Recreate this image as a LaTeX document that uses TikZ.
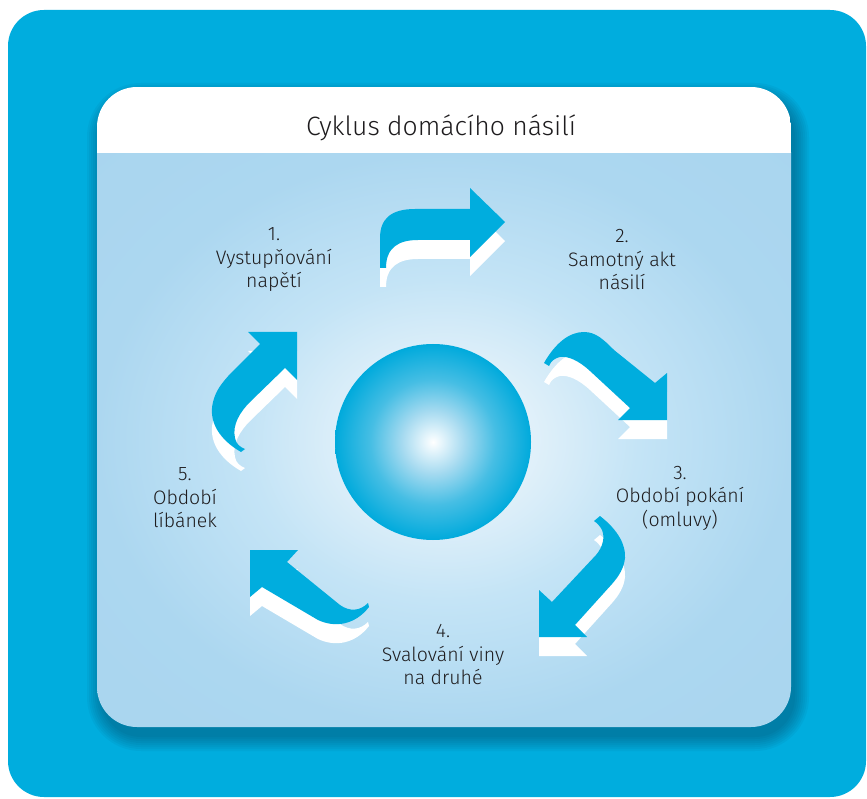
\documentclass[tikz,border=0pt]{standalone}
\usepackage{fontspec}
\setmainfont{Fira Sans Light}
\definecolor{cyklusmodra}{RGB}{0,173,222}
\definecolor{cyklustext}{RGB}{30,28,30}
\definecolor{cyklusstin}{RGB}{0,45,70}
\definecolor{kouleA}{RGB}{232,246,252}
\definecolor{kouleB}{RGB}{165,218,240}
\definecolor{kouleC}{RGB}{70,190,228}
\definecolor{kouleD}{RGB}{0,170,220}
\definecolor{pozadiA}{RGB}{246,251,254}
\definecolor{pozadiB}{RGB}{226,241,250}
\definecolor{pozadiC}{RGB}{196,228,246}
\definecolor{pozadiD}{RGB}{172,215,240}
\definecolor{pozadiE}{RGB}{165,211,237}
\pgfdeclareradialshading{koule}{\pgfpoint{0bp}{0bp}}{%
  color(0bp)=(white); color(2bp)=(kouleA); color(8bp)=(kouleB);
  color(16bp)=(kouleC); color(25bp)=(kouleD); color(50bp)=(kouleD)}
\pgfdeclareradialshading{pozadi}{\pgfpoint{0bp}{0bp}}{%
  color(0bp)=(pozadiA); color(6bp)=(pozadiB); color(14bp)=(pozadiC);
  color(25bp)=(pozadiD); color(50bp)=(pozadiE)}
\newcommand{\sipka}[1]{%
  \fill[white, shift={(0,19)}] #1;
  \fill[cyklusmodra] #1;}

\begin{document}
\begin{tikzpicture}[x={(1pt,0pt)}, y={(0pt,-1pt)},
    popis/.style={align=center, text=cyklustext, font=\fontsize{19.5}{23.5}\selectfont}]
  \useasboundingbox (0,0) rectangle (867,799);
  \fill[white] (0,0) rectangle (867,799);
  \fill[cyklusmodra, rounded corners=36] (8,10) rectangle (866,797);
  \foreach \r in {14,12,...,0}
    \fill[cyklusstin, opacity=0.05, rounded corners=40+\r] (101-\r,97-\r) rectangle (795+\r,737+\r);
  \begin{scope}
    \clip[rounded corners=40] (97,87) rectangle (791,727);
    \shade[shading=pozadi] (97,153) rectangle (791,727);
    \fill[white] (97,87) rectangle (791,153);
  \end{scope}
  \node[text=cyklustext, font=\fontsize{26.5}{32}\selectfont] (nadpis) at (441,128) {Cyklus domácího násilí};
  \node[circle, inner sep=0pt, minimum size=196pt, shading=koule] (koule) at (433,442) {};
  \sipka{(380,268) -- (380,238) .. controls (380,218) and (392,209) .. (415,209) -- (470,209) -- (470,188) -- (505,222) -- (470,257) -- (470,240) -- (418,240) .. controls (398,240) and (386,248) .. (386,268) -- cycle}
  \sipka{(544,363) .. controls (556,342) and (570,332) .. (584,332) .. controls (596,332) and (604,340) .. (614,350) -- (655,383) -- (667,373) -- (667,420) -- (618,420) -- (630,408) -- (590,371) .. controls (578,360) and (568,356) .. (560,357) .. controls (555,358) and (551,361) .. (549,366) -- cycle}
  \sipka{(600,516) .. controls (618,530) and (626,545) .. (625,558) .. controls (624,568) and (619,576) .. (612,584) -- (575,625) -- (587,637) -- (539,637) -- (539,590) -- (552,602) -- (596,555) .. controls (603,547) and (605,537) .. (602,530) .. controls (600,526) and (597,523) .. (594,521) -- cycle}
  \sipka{(368,603) .. controls (360,611) and (350,612) .. (340,605) -- (287,562) -- (298,550) -- (250,550) -- (250,597) -- (262,587) -- (318,620) .. controls (335,628) and (355,625) .. (369,607) -- cycle}
  \sipka{(241,452) .. controls (220,440) and (208,422) .. (213,402) .. controls (216,390) and (222,383) .. (230,374) -- (260,344) -- (248,332) -- (297,332) -- (297,380) -- (285,368) -- (250,402) .. controls (240,412) and (232,425) .. (235,438) .. controls (236,444) and (240,447) .. (245,449) -- cycle}
  \node[popis] (faze1) at (274,260) {1.\\Vystupňování\\napětí};
  \node[popis] (faze2) at (622,260) {2.\\Samotný akt\\násilí};
  \node[popis] (faze3) at (680,498) {3.\\Období pokání\\(omluvy)};
  \node[popis] (faze4) at (443,655) {4.\\Svalování viny\\na druhé};
  \node[popis] (faze5) at (185,498) {5.\\Období\\líbánek};
\end{tikzpicture}
\end{document}
